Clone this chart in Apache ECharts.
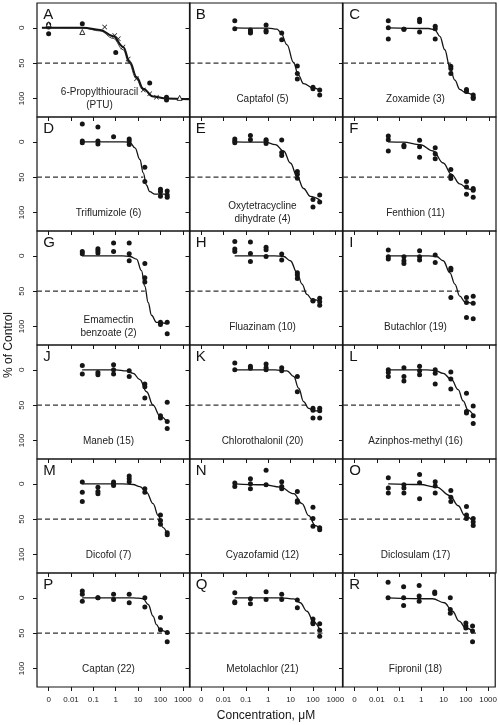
<!DOCTYPE html>
<html><head><meta charset="utf-8">
<script src="https://cdn.jsdelivr.net/npm/echarts@6/dist/echarts.min.js"></script>
<style>html,body{margin:0;padding:0;background:#fff}#c{width:500px;height:725px}</style>
</head><body><div id="c"></div>
<script>
// ---------- data ----------
const letters = ['A','B','C','D','E','F','G','H','I','J','K','L','M','N','O','P','Q','R'];
const names = ['6-Propylthiouracil\n(PTU)','Captafol (5)','Zoxamide (3)','Triflumizole (6)',
  'Oxytetracycline\ndihydrate (4)','Fenthion (11)','Emamectin\nbenzoate (2)','Fluazinam (10)',
  'Butachlor (19)','Maneb (15)','Chlorothalonil (20)','Azinphos-methyl (16)','Dicofol (7)',
  'Cyazofamid (12)','Diclosulam (17)','Captan (22)','Metolachlor (21)','Fipronil (18)'];
const xTickLabels = ['0','0.01','0.1','1','10','100','1000'];
const xTickLogs = [-3,-2,-1,0,1,2,3];   // "0" drawn one decade below 0.01
const yTicks = [0,50,100];
const conc = [0.032,0.16,0.8,4,20,100,200]; // µM, panels B–R

// panel A (µM, % of control)
const dotsA  = [[0,-4.7],[0,-1],[0,8.5],[0.032,-5.6],[1,35],[33,78],[186,98],[186,102]];
const crossA = [[0.32,-1],[0.9,11],[1.3,15.5],[2.1,27],[3.6,44],[8.5,72],[17,88],[33,93],[66,98]];
const triA   = [[0,-5],[0.032,6],[720,99]];
// responses per concentration (panels B–R)
const pointsB = [[-10,1.4],[3,6,7.5],[-4,4,6],[7.5,17],[54,64.5,72.5],[84,86],[88,95]];
const pointsC = [[-10,0,16],[2,2],[-12,-8.5,6],[-2,1.4,16],[54.5,57.5,64.5],[87,90],[95,98,100]];
const pointsD = [[-25,-1,1.4],[-21,-1,3],[-7],[-4,-1,4],[36,56],[67,70.5,77],[69.5,75,78.5]];
const pointsE = [[-4,-1,1.4],[-9,-3],[-3,-1,2.4],[-2.4,15,19.5],[42,46,51.5],[81.5,92],[75,85]];
const pointsF = [[-8,-3,13],[5,7],[-2,7,22],[8.5,17,24],[39,48.5,52],[56,64,74],[66,68.5,78.5]];
const pointsG = [[-6,-3],[-10,-7,-4],[-18,-6],[-18,-3,7],[11,31,37],[94,97],[94,110]];
const pointsH = [[-20,-9.5,-6],[-19.4,-3.3,8],[-12,-8.5,1],[-2.4,6],[24,27,32],[63,64],[60,65,70]];
const pointsI = [[-8,1.4,4.7],[1.4,7,11],[-7,1.4,6],[-1,9.5],[17.5,20,59],[59,66,87],[57,67,89]];
const pointsJ = [[-6,6],[4,7],[-7,0,6],[1.4,9.5],[20,24,40],[65,68],[46,73,83]];
const pointsK = [[-9.5,0],[-5,-2],[-8,-3,0],[-3,1.4],[9.5,31],[54.5,57,68],[54.5,58,68]];
const pointsL = [[0,4,9.5],[-3,9.5,16],[-5,1.4,7],[0,5,20],[3,13,27],[33,59,61],[51,65,76]];
const pointsM = [[-2.4,12,25],[5,11,14],[-2.4,0,2.4],[-11,-7,-3],[7,12],[44,52,57],[69,72]];
const pointsN = [[-1,4],[-7,0,7],[-19,1.4],[-3,4,7],[11,24,26],[33,49,60],[62,65]];
const pointsO = [[-8.5,6,13],[1.4,6,13],[-13,-1.4,21],[-3,3,13],[9.5,19,25],[32,44,49],[49,54,59]];
const pointsP = [[-9.5,-5,5],[0,0],[-5,2.4],[-5,7],[0,13],[28,45],[49,62]];
const pointsQ = [[-7,5.7,7],[1.4,8.5],[-8.5,2.4],[-5,2.4],[3,14],[30,35,36.5],[36.5,46,54.5]];
const pointsR = [[-22,0],[-15.6,0,11],[-17.5,-2.4,5],[-8,-6],[0,16.6,22],[35.5,40,42.7],[40,47,62]];

// fitted curves: [log10(µM), %]
const curveA  = [[-3.3,0],[-1.45,0],[-0.7,3],[-0.11,12],[0.33,27],[0.63,48.5],[0.93,69.5],[1.23,86],[1.67,97],[2.27,100],[3.27,101]];
const curveA2 = [[-3.3,0],[-1.45,0.5],[-0.7,4.5],[-0.11,15],[0.33,31],[0.6,50],[0.9,71],[1.2,87],[1.67,97],[2.27,100],[3.27,101]];
const curveB = [[-1.5,0],[0,0.5],[0.39,2],[0.55,6],[0.84,24],[1.13,49],[1.35,67],[1.58,79],[2.0,85],[2.3,88]];
const curveC = [[-1.5,0],[0.3,1],[0.585,3],[0.81,12],[1.03,31],[1.25,55],[1.48,74],[1.7,87],[1.97,92],[2.3,95]];
const curveD = [[-1.5,0],[0.4,0],[0.63,1],[0.86,8.5],[1.08,25],[1.23,44],[1.37,61],[1.52,70.5],[1.75,74],[2.3,74]];
const curveE = [[-1.5,0],[-0.13,0.5],[0.32,4],[0.69,13],[0.99,30],[1.29,49],[1.58,66],[1.88,77],[2.3,82]];
const curveF = [[-1.5,0],[-0.83,0.5],[-0.08,4],[0.51,13],[0.96,30],[1.33,46],[1.7,59.5],[2.07,66.5],[2.33,69]];
const curveG = [[-1.5,0],[0.3,0],[0.63,1],[0.93,4.7],[1.15,21],[1.3,43],[1.45,66],[1.6,84],[1.82,94],[2.3,96]];
const curveH = [[-1.5,0],[0.3,0],[0.69,1],[0.99,7],[1.29,24],[1.51,40],[1.73,54.5],[1.96,62],[2.33,64]];
const curveI = [[-1.5,0],[0.3,0],[0.66,1],[0.96,7],[1.26,24],[1.48,40],[1.7,57],[1.93,65],[2.3,68]];
const curveJ = [[-1.5,0],[0.0,0],[0.48,1.5],[0.78,5],[1.08,14],[1.38,31],[1.67,50],[1.97,65],[2.3,74]];
const curveK = [[-1.5,0],[0.3,0],[0.84,1.5],[1.14,9.5],[1.36,26],[1.58,45],[1.81,54.5],[2.03,58],[2.33,58]];
const curveL = [[-1.5,0],[0.2,0],[0.59,1],[0.96,5],[1.33,14],[1.63,28],[1.85,44],[2.07,57],[2.3,64]];
const curveM = [[-1.5,0],[0.3,0],[0.78,1],[1.08,4],[1.38,12],[1.67,28],[1.9,45],[2.12,62],[2.3,71]];
const curveN = [[-1.5,0],[-0.2,1.4],[0.54,4.7],[1.14,14],[1.51,28],[1.81,45],[2.1,59],[2.36,65]];
const curveO = [[-1.5,0],[-0.08,1],[0.66,4.7],[1.26,16.6],[1.63,31],[1.93,45],[2.3,53.5]];
const curveP = [[-1.5,0],[0.6,0],[1.0,0.5],[1.23,1.5],[1.45,9.5],[1.67,26],[1.82,38],[2.0,46],[2.3,49]];
const curveQ = [[-1.5,0],[0.6,0],[1.14,1.5],[1.43,7],[1.73,19],[2.03,34],[2.33,47]];
const curveR = [[-1.5,0],[0.51,1.4],[1.03,7],[1.4,19],[1.7,33],[2.0,42.7],[2.3,47]];
// where the dashed 50% reference line stops: log10(µM)
const dashEnd = [0.63,1.18,1.3,1.23,1.32,1.38,1.3,1.73,1.7,1.85,1.8,1.85,1.95,2.0,2.3,2.42,2.46,2.46];

// ---------- layout ----------
const points = [null,pointsB,pointsC,pointsD,pointsE,pointsF,pointsG,pointsH,pointsI,pointsJ,pointsK,pointsL,pointsM,pointsN,pointsO,pointsP,pointsQ,pointsR];
const curves = [curveA,curveB,curveC,curveD,curveE,curveF,curveG,curveH,curveI,curveJ,curveK,curveL,curveM,curveN,curveO,curveP,curveQ,curveR];
const colLeft = [37,189.5,343], panelW = 153, panelH = 114;
const rowTop = [3,117,231,345,459,573];
const X_MIN = -3.52, X_MAX = 3.32, Y_MIN = -35, Y_MAX = 126;
const FONT = '"Liberation Sans", Arial, sans-serif';
const INK = '#151515';
const pos = c => c === 0 ? -3 : Math.log10(c);

const grid = [], xAxis = [], yAxis = [], series = [], graphic = [];
for (let i = 0; i < 18; i++) {
  const r = Math.floor(i/3), c = i % 3;
  grid.push({left: colLeft[c], top: rowTop[r], width: panelW, height: panelH,
    show: true, borderColor: INK, borderWidth: 1.2, backgroundColor: 'transparent'});
  xAxis.push({gridIndex: i, type: 'value', min: X_MIN, max: X_MAX, position: 'bottom',
    axisLine: {show: false, onZero: false}, splitLine: {show: false},
    axisTick: {show: true, customValues: xTickLogs, length: 4, lineStyle: {color: INK, width: 1}},
    axisLabel: {show: r === 5, customValues: xTickLogs, fontSize: 8, color: '#222', margin: 9, fontFamily: FONT,
      formatter: v => xTickLabels[xTickLogs.indexOf(Math.round(v))]}});
  yAxis.push({gridIndex: i, type: 'value', inverse: true, min: Y_MIN, max: Y_MAX, position: 'left',
    axisLine: {show: false, onZero: false}, splitLine: {show: false},
    axisTick: {show: true, customValues: yTicks, length: 4, lineStyle: {color: INK, width: 1}},
    axisLabel: {show: c === 0, customValues: yTicks, rotate: 90, fontSize: 8, color: '#222', margin: 11, fontFamily: FONT}});
  // dashed 50% line
  series.push({type: 'line', xAxisIndex: i, yAxisIndex: i, symbol: 'none', silent: true, z: 1,
    data: [[X_MIN, 50], [dashEnd[i], 50]],
    lineStyle: {color: '#333', width: 1.2, type: [5, 3]}});
  // curve
  series.push({type: 'line', xAxisIndex: i, yAxisIndex: i, symbol: 'none', smooth: 0.4, smoothMonotone: 'x', z: 2,
    data: curves[i], lineStyle: {color: INK, width: i === 0 ? 2 : 1.3}});
  if (i === 0) {
    series.push({type: 'line', xAxisIndex: 0, yAxisIndex: 0, symbol: 'none', smooth: 0.4, smoothMonotone: 'x', z: 2,
      data: curveA2, lineStyle: {color: INK, width: 0.8}});
    series.push({type: 'scatter', xAxisIndex: 0, yAxisIndex: 0, symbolSize: 5, z: 3,
      data: dotsA.map(p => [pos(p[0]), p[1]]), itemStyle: {color: INK, opacity: 1}});
    series.push({type: 'scatter', xAxisIndex: 0, yAxisIndex: 0, symbolSize: 5, z: 3,
      symbol: 'path://M0,1L1,0L5,4L9,0L10,1L6,5L10,9L9,10L5,6L1,10L0,9L4,5Z',
      data: crossA.map(p => [pos(p[0]), p[1]]), itemStyle: {color: INK, opacity: 1}});
    series.push({type: 'scatter', xAxisIndex: 0, yAxisIndex: 0, symbolSize: 5, z: 3, symbol: 'triangle',
      data: triA.map(p => [pos(p[0]), p[1]]), itemStyle: {color: '#fff', borderColor: INK, borderWidth: 0.9, opacity: 1}});
  } else {
    const d = [];
    points[i].forEach((vals, k) => vals.forEach(v => d.push([pos(conc[k]), v])));
    series.push({type: 'scatter', xAxisIndex: i, yAxisIndex: i, symbolSize: 5, z: 3,
      data: d, itemStyle: {color: INK, opacity: 1}});
  }
  // texts
  graphic.push({type: 'text', x: colLeft[c] + 6.3, y: rowTop[r] + 12, silent: true,
    style: {text: letters[i], font: '15px ' + FONT, fill: INK, textAlign: 'left', textVerticalAlign: 'middle'}});
  const nameX = i === 0 ? 99.5 : [108.5, 262.5, 415.5][c];
  graphic.push({type: 'text', x: nameX, y: rowTop[r] + 96, silent: true,
    style: {text: names[i], font: '10px ' + FONT, fill: '#222', textAlign: 'center', textVerticalAlign: 'middle', lineHeight: 13}});
}
graphic.push({type: 'text', x: 266, y: 716, silent: true,
  style: {text: 'Concentration, \u03bcM', font: '12px ' + FONT, fill: INK, textAlign: 'center', textVerticalAlign: 'middle'}});
graphic.push({type: 'text', x: 9, y: 345, rotation: Math.PI/2, silent: true,
  style: {text: '% of Control', font: '12px ' + FONT, fill: INK, textAlign: 'center', textVerticalAlign: 'middle'}});

const chart = echarts.init(document.getElementById('c'), null, {renderer: 'canvas'});
chart.setOption({animation: false, backgroundColor: '#fff', grid, xAxis, yAxis, series, graphic});
</script></body></html>
